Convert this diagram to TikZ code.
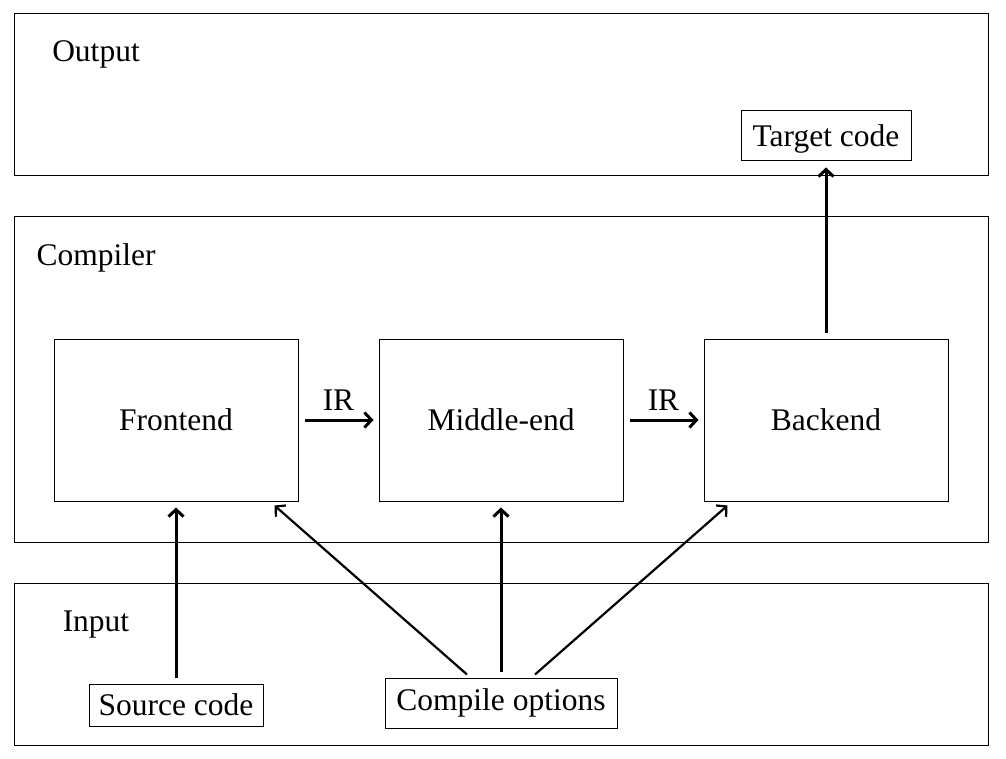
\documentclass[tikz,border=0pt]{standalone}
\usepackage{fontspec}
\setmainfont{Liberation Serif}
\usetikzlibrary{calc,arrows.meta}
\begin{document}
\begin{tikzpicture}[x=1pt,y=-1pt,
  every node/.style={font=\fontsize{31.5}{38}\selectfont},
  panel/.style={draw,line width=1pt,inner sep=0pt},
  box/.style={draw,line width=1pt,inner sep=0pt,text height=21.5pt,text depth=0.5pt},
  lbl/.style={inner sep=0pt,text height=21.5pt,text depth=0.5pt},
  thickarrow/.style={-{Straight Barb[length=7pt,width=15pt]},line width=3pt},
  thinarrow/.style={-{Straight Barb[length=7pt,width=15pt]},line width=2.2pt}]
\useasboundingbox (0,0) rectangle (1006,759);
% panels
\node[panel,minimum width=974pt,minimum height=162pt] (outp) at (501,95) {};
\node[panel,minimum width=974pt,minimum height=325pt] (comp) at (501,379.5) {};
\node[panel,minimum width=974pt,minimum height=162pt] (inp) at (501,664) {};
\node[lbl] (outlbl) at (96,51) {Output};
\node[lbl] (complbl) at (96,255) {Compiler};
\node[lbl] (inlbl) at (96,621) {Input};
% stages
\node[box,minimum width=244pt,minimum height=162pt] (fe) at (176,420) {Frontend};
\node[box,minimum width=244pt,minimum height=162pt] (me) at (501,420) {Middle-end};
\node[box,minimum width=244pt,minimum height=162pt] (be) at (826,420) {Backend};
\node[box,minimum width=170pt,minimum height=50pt] (tc) at (826,136) {Target code};
\node[box,minimum width=174pt,minimum height=42pt] (sc) at (176,705) {Source code};
\node[box,minimum width=232pt,minimum height=50pt,text depth=6pt] (co) at (501,703) {Compile options};
% connectors
\draw[thickarrow,shorten <=6pt,shorten >=5pt] (fe.east) -- node[above,inner sep=8pt] (ir1) {IR} (me.west);
\draw[thickarrow,shorten <=6pt,shorten >=5pt] (me.east) -- node[above,inner sep=8pt] (ir2) {IR} (be.west);
\draw[thickarrow,shorten <=6pt,shorten >=6pt] (sc.north) -- (fe.south);
\draw[thickarrow,shorten <=6pt,shorten >=6pt] (co.north) -- (me.south);
\draw[thickarrow,shorten <=6pt,shorten >=6pt] (be.north) -- (tc.south);
\draw[thinarrow] ($(co.north)+(-34,-3)$) -- ($(fe.south east)+(-24,4)$);
\draw[thinarrow] ($(co.north)+(34,-3)$) -- ($(be.south west)+(24,4)$);
\end{tikzpicture}
\end{document}
